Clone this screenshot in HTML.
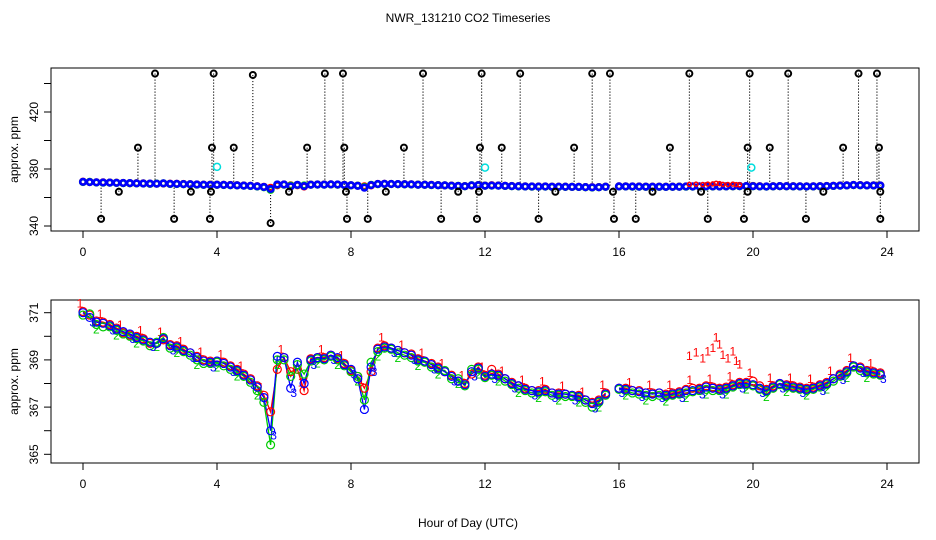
<!DOCTYPE html>
<html><head><meta charset="utf-8"><style>
body{margin:0;background:#fff}
svg{display:block;font-family:"Liberation Sans",sans-serif}
</style></head><body>
<svg id="chart" width="936" height="540" viewBox="0 0 936 540" xmlns="http://www.w3.org/2000/svg">
<rect width="936" height="540" fill="#fff"/>
<text x="468" y="22" font-size="12" text-anchor="middle">NWR_131210  CO2 Timeseries</text>
<g id="topPanel"></g>
<g id="botPanel"></g>
<text x="468" y="527" font-size="12" text-anchor="middle">Hour of Day (UTC)</text>
</svg>
<script>
const hours=[0,0.2,0.4,0.6,0.8,1,1.2,1.4,1.6,1.8,2,2.2,2.4,2.6,2.8,3,3.2,3.4,3.6,3.8,
4,4.2,4.4,4.6,4.8,5,5.2,5.4,5.6,5.8,6,6.2,6.4,6.6,6.8,7,7.2,7.4,7.6,7.8,
8,8.2,8.4,8.6,8.8,9,9.2,9.4,9.6,9.8,10,10.2,10.4,10.6,10.8,11,11.2,11.4,11.6,11.8,
12,12.2,12.4,12.6,12.8,13,13.2,13.4,13.6,13.8,14,14.2,14.4,14.6,14.8,15,15.2,15.4,15.6,
16,16.2,16.4,16.6,16.8,17,17.2,17.4,17.6,17.8,18,18.2,18.4,18.6,18.8,19,19.2,19.4,19.6,19.8,
20,20.2,20.4,20.6,20.8,21,21.2,21.4,21.6,21.8,22,22.2,22.4,22.6,22.8,23,23.2,23.4,23.6,23.8];
const series3=[371.0,370.8,370.6,370.55,370.45,370.3,370.2,370.1,369.95,369.85,369.75,369.7,369.9,369.6,369.55,369.4,369.3,369.1,368.95,368.9,
368.95,368.85,368.7,368.55,368.35,368.15,367.85,367.4,366.0,369.15,369.1,367.8,368.9,368.0,369.0,369.1,369.05,369.2,369.1,368.8,
368.6,368.2,366.9,368.7,369.45,369.55,369.5,369.4,369.3,369.2,369.0,368.95,368.8,368.65,368.5,368.3,368.1,367.95,368.5,368.65,
368.3,368.4,368.35,368.2,368.0,367.9,367.75,367.7,367.65,367.7,367.6,367.55,367.55,367.5,367.45,367.3,367.15,367.25,367.55,
367.8,367.75,367.7,367.65,367.6,367.55,367.6,367.5,367.55,367.6,367.7,367.7,367.75,367.85,367.8,367.75,367.8,367.9,368.0,368.0,
367.95,367.8,367.7,367.85,368.0,367.9,367.85,367.8,367.75,367.8,367.9,368.0,368.2,368.35,368.5,368.75,368.65,368.5,368.45,368.4];
const series2=[370.9,370.95,370.5,370.4,370.4,370.25,370.1,370.0,369.9,369.8,369.6,369.75,369.95,369.5,369.5,369.35,369.2,369.0,368.85,368.85,
368.9,368.75,368.6,368.5,368.3,368.05,367.7,367.2,365.4,369.0,369.0,368.3,368.8,368.4,368.95,369.05,369.0,369.15,369.0,368.75,
368.5,368.3,367.3,368.9,369.35,369.5,369.45,369.3,369.2,369.1,368.95,368.9,368.7,368.6,368.55,368.2,368.2,367.9,368.6,368.6,
368.25,368.35,368.3,368.1,367.95,367.8,367.7,367.6,367.6,367.65,367.5,367.5,367.45,367.45,367.4,367.2,367.0,367.2,367.5,
367.75,367.7,367.6,367.55,367.5,367.45,367.5,367.45,367.5,367.55,367.6,367.65,367.7,367.75,367.7,367.7,367.75,367.85,367.95,367.95,
367.9,367.75,367.65,367.8,367.95,367.85,367.8,367.75,367.7,367.75,367.85,367.95,368.1,368.3,368.45,368.7,368.55,368.45,368.4,368.35];
const series1=[371.05,370.9,370.65,370.6,370.5,370.35,370.15,370.05,370.0,369.9,369.7,369.7,369.85,369.65,369.6,369.45,369.3,369.15,369.0,368.95,
368.95,368.9,368.75,368.6,368.4,368.2,367.9,367.5,366.8,368.6,369.1,368.5,368.6,367.7,369.05,369.1,369.1,369.2,369.05,368.85,
368.55,368.3,367.8,368.5,369.5,369.6,369.5,369.4,369.3,369.25,369.05,368.95,368.85,368.7,368.5,368.35,368.1,368.0,368.4,368.7,
368.35,368.6,368.4,368.2,368.05,367.9,367.8,367.7,367.7,367.75,367.6,367.6,367.55,367.5,367.5,367.3,367.2,367.3,367.6,
367.8,367.8,367.7,367.7,367.6,367.6,367.6,367.55,367.6,367.65,367.75,367.8,367.8,367.9,367.85,367.8,367.85,367.95,368.05,368.05,
368.1,367.9,367.75,367.9,368.0,367.95,367.9,367.85,367.8,367.85,367.95,368.05,368.2,368.4,368.55,368.75,368.7,368.55,368.5,368.45];
const spikeHours=[18.1,18.3,18.5,18.65,18.8,18.9,19.0,19.1,19.25,19.4,19.5,19.6];
const spikeValues=[369.2,369.35,369.1,369.4,369.55,370.0,369.7,369.25,369.1,369.4,369.0,368.85];
const outHours=[2.15,3.9,5.07,7.22,7.76,10.15,11.9,13.05,15.2,15.73,18.1,19.9,21.05,23.15,23.7,
1.64,3.85,4.5,6.69,7.8,9.58,11.85,12.5,14.66,17.52,19.84,20.5,22.69,23.76,
1.07,3.22,3.82,6.15,7.85,9.04,11.2,11.82,14.1,15.82,17.0,18.45,19.84,22.1,23.8,
0.54,2.72,3.79,7.88,8.5,10.69,11.76,13.6,15.85,16.5,18.65,19.73,21.58,23.8,5.6];
const outValues=[447,447,446,447,447,447,447,447,447,447,447,447,447,447,447,
395,395,395,395,395,395,395,395,395,395,395,395,395,395,
364,364,364,364,364,364,364,364,364,364,364,364,364,364,364,
345,345,345,345,345,345,345,345,345,345,345,345,345,345,342];
const flagHours=[4.0,12.0,19.95];
const flagValues=[381.5,381,381];
const xTicks=[0,4,8,12,16,20,24];
const topTicks=[340,360,380,400,420,440];
const topLabels=["340","","380","","420",""];
const botTicks=[365,366,367,368,369,370,371];
const botLabels=["365","","367","","369","","371"];

const NS="http://www.w3.org/2000/svg";
function mk(p,t,a){const e=document.createElementNS(NS,t);for(const k in a)e.setAttribute(k,a[k]);p.appendChild(e);return e;}
const xs=h=>83+h*33.5;
const yTop=v=>226-(v-340)*1.425;
const yBot=v=>312.7+(371-v)*23.6;

function frame(g,y0,y1,ticks,labels,ys,name){
  const r=mk(g,'rect',{x:51,y:y0,width:868,height:y1-y0,fill:'none',stroke:'#000'});
  
  
  xTicks.forEach(t=>{
    const l=mk(g,'line',{x1:xs(t),x2:xs(t),y1:y1,y2:y1+7,stroke:'#000'});
    
    
    const tx=mk(g,'text',{x:xs(t),y:y1+25,'font-size':12,'text-anchor':'middle'});tx.textContent=t;
    
    
  });
  ticks.forEach((t,i)=>{
    const y=ys(t);
    const l=mk(g,'line',{x1:44,x2:51,y1:y,y2:y,stroke:'#000'});
    
    
    if(labels[i]){const tx=mk(g,'text',{x:38,y:y,'font-size':12,'text-anchor':'middle',transform:`rotate(-90 38 ${y})`});tx.textContent=labels[i];
    
    }
  });
  const yt=(y0+y1)/2;
  const tt=mk(g,'text',{x:18,y:yt,'font-size':12,'text-anchor':'middle',transform:`rotate(-90 18 ${yt})`});tt.textContent='approx. ppm';
  
  
}
function pathFor(vals,ys){
  let d='';hours.forEach((h,i)=>{const brk=i===0||h-hours[i-1]>0.3;d+=(brk?'M':'L')+xs(h).toFixed(1)+' '+ys(vals[i]).toFixed(1);});return d;
}
const gTop=document.getElementById('topPanel');
frame(gTop,68,231,topTicks,topLabels,yTop,'top');
outHours.forEach((h,i)=>{
  let k=0,best=99;hours.forEach((hh,j)=>{if(Math.abs(hh-h)<best){best=Math.abs(hh-h);k=j;}});
  const l=mk(gTop,'line',{x1:xs(h),x2:xs(h),y1:yTop(outValues[i]),y2:yTop(series3[k]),stroke:'#000','stroke-dasharray':'1.2 1.8','stroke-width':1});
  
  
});
[[series1,'#f00'],[series2,'#0c0'],[series3,'#00f']].forEach(([s,c])=>{
  hours.forEach((h,i)=>{const e=mk(gTop,'circle',{cx:xs(h),cy:yTop(s[i]),r:2.8,fill:'none',stroke:c,'stroke-width':2.6});
  
  });
});
spikeHours.forEach((h,i)=>{
  const e=mk(gTop,'circle',{cx:xs(h),cy:yTop(spikeValues[i]),r:2,fill:'none',stroke:'#f00','stroke-width':1.5});
  
  
});
outHours.forEach((h,i)=>{
  const e=mk(gTop,'circle',{cx:xs(h),cy:yTop(outValues[i]),r:3,fill:'none',stroke:'#000','stroke-width':2});
  
  
});
flagHours.forEach((h,i)=>{
  const e=mk(gTop,'circle',{cx:xs(h),cy:yTop(flagValues[i]),r:3.5,fill:'none',stroke:'#0dd','stroke-width':1.5});
  
  
});
const gBot=document.getElementById('botPanel');
frame(gBot,300,463,botTicks,botLabels,yBot,'bottom');
const defs=[[series1,'#f00','1'],[series2,'#0c0','2'],[series3,'#00f','3']];
defs.forEach(([s,c,lab])=>{
  const p=mk(gBot,'path',{d:pathFor(s,yBot),fill:'none',stroke:c,'stroke-width':1.3});
  
  
});
defs.forEach(([s,c,lab],si)=>{
  hours.forEach((h,i)=>{
    const e=mk(gBot,'circle',{cx:xs(h),cy:yBot(s[i]),r:4,fill:'none',stroke:c,'stroke-width':1.2});
    
    
    if((i+si)%3===0){const t=mk(gBot,'text',{x:xs(h)+(si-1)*3,y:yBot(s[i])+(si===0?-4:9),'font-size':12,fill:c,'text-anchor':'middle'});t.textContent=lab;
    
    }
  });
});
spikeHours.forEach((h,i)=>{
  const t=mk(gBot,'text',{x:xs(h),y:yBot(spikeValues[i])+5,'font-size':12,fill:'#f00','text-anchor':'middle'});t.textContent='1';
  
  
});
</script>
</body></html>
